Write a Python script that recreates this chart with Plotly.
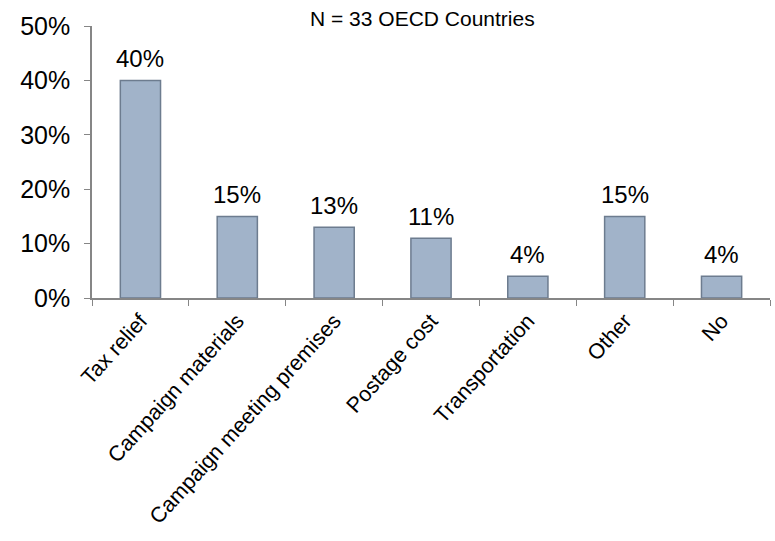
import plotly.graph_objects as go

categories = ["Tax relief", "Campaign materials", "Campaign meeting premises",
              "Postage cost", "Transportation", "Other", "No"]
values = [40, 15, 13, 11, 4, 15, 4]
labels = ["40%", "15%", "13%", "11%", "4%", "15%", "4%"]
y_ticks = [0, 10, 20, 30, 40, 50]
y_tick_labels = ["0%", "10%", "20%", "30%", "40%", "50%"]

fig = go.Figure()
fig.add_trace(go.Bar(
    x=categories, y=values,
    marker=dict(color="#a1b3c9", line=dict(color="#6d7c8f", width=1.5)),
))
annotations = [dict(x=c, y=v, text=t, xref="x", yref="y", showarrow=False,
                    xanchor="center", yanchor="bottom", yshift=6,
                    font=dict(size=24, family="Liberation Sans, Arial", color="#000000"))
               for c, v, t in zip(categories, values, labels)]
annotations.append(dict(text="N = 33 OECD Countries", x=0.5, y=1.0, xref="paper", yref="paper",
                        xanchor="center", yanchor="middle", yshift=8, xshift=-9, showarrow=False,
                        font=dict(size=21, family="Liberation Sans, Arial", color="#000000")))
fig.update_layout(
    width=775, height=541,
    margin=dict(l=92, r=5, t=26, b=243),
    plot_bgcolor="white", paper_bgcolor="white",
    bargap=0.585, showlegend=False,
    font=dict(family="Liberation Sans, Arial", color="#000000"),
    annotations=annotations,
)
fig.update_xaxes(showline=True, linecolor="#868686", linewidth=1.5, ticks="outside",
                 tickson="boundaries", ticklen=6, tickcolor="#868686", tickangle=-48,
                 tickfont=dict(size=21.5), showgrid=False)
fig.update_yaxes(range=[0, 50], tickvals=y_ticks, ticktext=y_tick_labels,
                 showline=True, linecolor="#868686", linewidth=1.5, ticks="outside",
                 ticklen=6, tickcolor="#868686", tickfont=dict(size=25), showgrid=False,
                 zeroline=False, ticklabelstandoff=9)
fig.write_html("out.html")
